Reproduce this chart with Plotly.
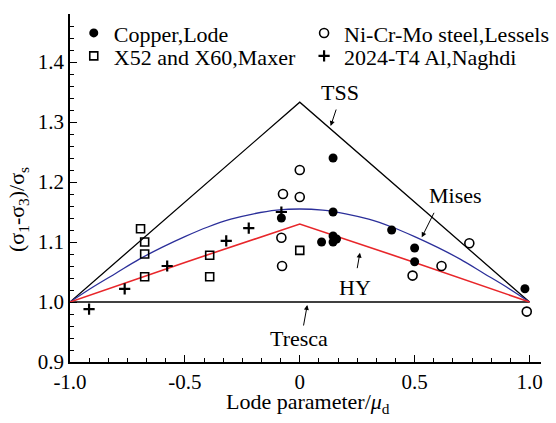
import plotly.graph_objects as go

# ---- data ----
copper_x = [0.145, 0.145, -0.08, 0.095, 0.145, 0.16, 0.145, 0.40, 0.50, 0.50, 0.98]
copper_y = [1.240, 1.150, 1.140, 1.100, 1.110, 1.105, 1.100, 1.120, 1.090, 1.067, 1.022]

nicrmo_x = [-0.073, 0.0, 0.0, -0.08, -0.077, 0.738, 0.617, 0.491, 0.988]
nicrmo_y = [1.180, 1.220, 1.175, 1.107, 1.060, 1.098, 1.060, 1.044, 0.984]

x52_x = [-0.693, -0.675, -0.675, -0.675, -0.392, -0.392, 0.0]
x52_y = [1.122, 1.100, 1.080, 1.042, 1.078, 1.042, 1.086]

al_x = [-0.917, -0.762, -0.577, -0.32, -0.222, -0.08]
al_y = [0.988, 1.022, 1.060, 1.102, 1.123, 1.150]

# theoretical criteria
tss_x = [-1.0, 0.0, 1.0]
tss_y = [1.0, 1.333, 1.0]

mises_x = [-1.0, -0.9, -0.8, -0.7, -0.6, -0.5, -0.4, -0.3, -0.2, -0.1, 0.0,
           0.1, 0.2, 0.3, 0.4, 0.5, 0.6, 0.7, 0.8, 0.9, 1.0]
mises_y = [1.000, 1.025, 1.048, 1.071, 1.091, 1.109, 1.125, 1.138, 1.147, 1.153, 1.155,
           1.153, 1.147, 1.138, 1.125, 1.109, 1.091, 1.071, 1.048, 1.025, 1.000]

hy_x = [-1.0, -0.5, 0.0, 0.5, 1.0]
hy_y = [1.0, 1.066, 1.13, 1.066, 1.0]

tresca_x = [-1.0, 1.0]
tresca_y = [1.0, 1.0]

xtick_vals = [-1.0, -0.5, 0.0, 0.5, 1.0]
xtick_text = ["-1.0", "-0.5", "0", "0.5", "1.0"]

FONT = "Liberation Serif"

fig = go.Figure()

fig.add_trace(go.Scatter(x=tss_x, y=tss_y, mode="lines",
                         line=dict(color="black", width=1.3), showlegend=False))
fig.add_trace(go.Scatter(x=tresca_x, y=tresca_y, mode="lines",
                         line=dict(color="black", width=1.3), showlegend=False))
fig.add_trace(go.Scatter(x=mises_x, y=mises_y, mode="lines", line_shape="spline",
                         line=dict(color="#2b2f9a", width=1.3), showlegend=False))
fig.add_trace(go.Scatter(x=hy_x, y=hy_y, mode="lines",
                         line=dict(color="#e8262a", width=1.6), showlegend=False))

fig.add_trace(go.Scatter(x=copper_x, y=copper_y, mode="markers", name="Copper,Lode",
                         marker=dict(symbol="circle", size=9, color="black"),
                         legend="legend"))
fig.add_trace(go.Scatter(x=nicrmo_x, y=nicrmo_y, mode="markers", name="Ni-Cr-Mo steel,Lessels",
                         marker=dict(symbol="circle-open", size=9, color="black",
                                     line=dict(width=1.6, color="black")),
                         legend="legend2"))
fig.add_trace(go.Scatter(x=x52_x, y=x52_y, mode="markers", name="X52 and X60,Maxer",
                         marker=dict(symbol="square-open", size=8, color="black",
                                     line=dict(width=1.6, color="black")),
                         legend="legend3"))
fig.add_trace(go.Scatter(x=al_x, y=al_y, mode="markers", name="2024-T4 Al,Naghdi",
                         marker=dict(symbol="cross-thin", size=8, color="black",
                                     line=dict(width=2.2, color="black")),
                         legend="legend4"))

leg_common = dict(font=dict(family=FONT, size=22, color="black"),
                  bgcolor="rgba(0,0,0,0)", borderwidth=0,
                  xanchor="left", yanchor="middle", itemwidth=30)

annotations = [
    dict(x=0.175, y=1.35, text="TSS", showarrow=False),
    dict(x=0.676, y=1.177, text="Mises", showarrow=False),
    dict(x=0.239, y=1.024, text="HY", showarrow=False),
    dict(x=-0.004, y=0.94, text="Tresca", showarrow=False),
    dict(x=0.1345, y=1.2933, text="", showarrow=True, ax=6, ay=-18),
    dict(x=0.531, y=1.1078, text="", showarrow=True, ax=13, ay=-26),
    dict(x=0.262, y=1.0822, text="", showarrow=True, ax=-3, ay=17),
    dict(x=0.0327, y=0.995, text="", showarrow=True, ax=-4, ay=22),
]
for a in annotations:
    a.update(xref="x", yref="y", xanchor="center", yanchor="middle",
             font=dict(family=FONT, size=22, color="black"))
    if a["showarrow"]:
        a.update(arrowhead=2, arrowsize=1, arrowwidth=1, arrowcolor="black", standoff=0)

annotations.append(dict(xref="paper", yref="paper", x=-0.1104, y=0.4368,
                        xanchor="center", yanchor="middle",
                        text="(σ<sub>1</sub>-σ<sub>3</sub>)/σ<sub>s</sub>",
                        textangle=-90, showarrow=False,
                        font=dict(family=FONT, size=22, color="black")))
annotations.append(dict(xref="paper", yref="paper", x=0.505, y=-0.1164,
                        xanchor="center", yanchor="middle",
                        text="Lode parameter/<i>μ</i><sub>d</sub>",
                        showarrow=False,
                        font=dict(family=FONT, size=22, color="black")))

fig.update_layout(
    width=556, height=423,
    margin=dict(l=70, r=15, t=14, b=61, autoexpand=False),
    paper_bgcolor="white", plot_bgcolor="white",
    font=dict(family=FONT, size=21, color="black"),
    legend=dict(x=0.008, y=0.945, **leg_common),
    legend2=dict(x=0.497, y=0.945, **leg_common),
    legend3=dict(x=0.008, y=0.879, **leg_common),
    legend4=dict(x=0.497, y=0.879, **leg_common),
    annotations=annotations,
    xaxis=dict(range=[-1.0, 1.05], tickmode="array", tickvals=xtick_vals, ticktext=xtick_text,
               ticks="inside", ticklen=7, tickwidth=1.2, tickcolor="black",
               showline=True, linecolor="black", linewidth=1.5, mirror=False,
               showgrid=False, zeroline=False, automargin=False,
               tickfont=dict(family=FONT, size=21, color="black"),
               minor=dict(tickmode="linear", tick0=-1.0, dtick=1/12, ticks="inside",
                          ticklen=4, tickwidth=1, tickcolor="black", showgrid=False)),
    yaxis=dict(range=[0.9, 1.48], tick0=0.9, dtick=0.1, tickformat=".1f",
               ticks="inside", ticklen=7, tickwidth=1.2, tickcolor="black",
               showline=True, linecolor="black", linewidth=1.5, mirror=False,
               showgrid=False, zeroline=False, automargin=False,
               tickfont=dict(family=FONT, size=21, color="black"),
               minor=dict(tick0=0.9, dtick=0.02, ticks="inside",
                          ticklen=4, tickwidth=1, tickcolor="black", showgrid=False)),
)

fig.write_html("out.html")
